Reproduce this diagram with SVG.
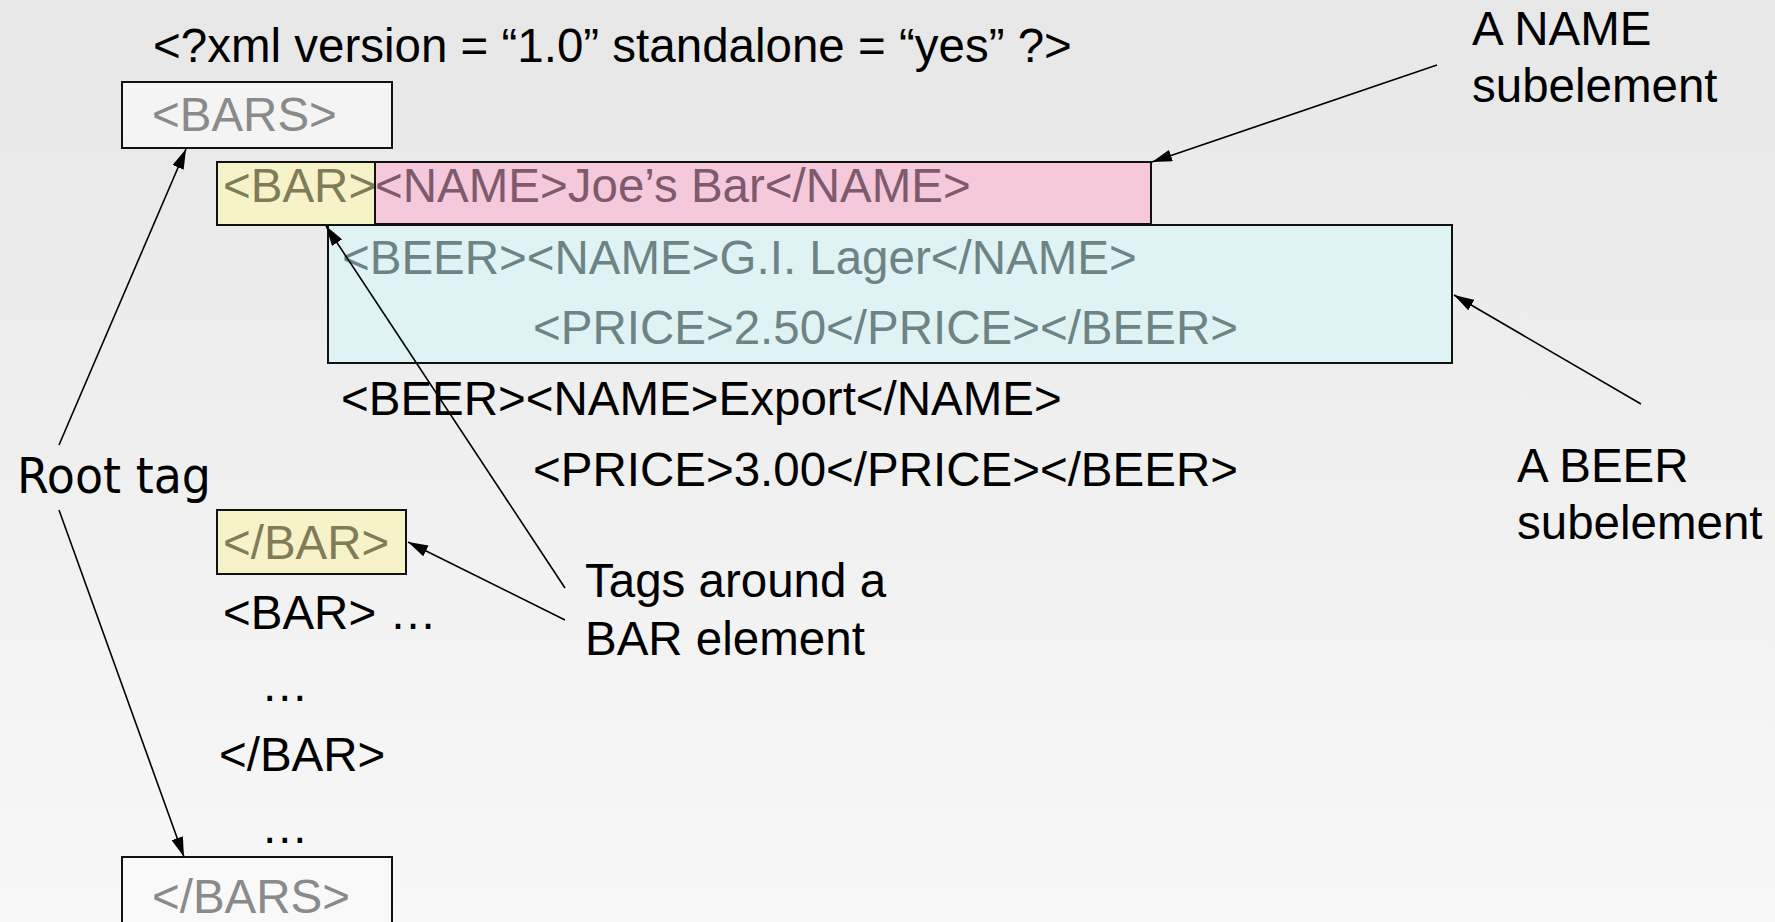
<svg xmlns="http://www.w3.org/2000/svg" width="1775" height="922" viewBox="0 0 1775 922">
<defs>
<linearGradient id="bg" x1="0" y1="0" x2="0" y2="1">
<stop offset="0" stop-color="#e7e7e7"/>
<stop offset="1" stop-color="#f8f8f8"/>
</linearGradient>
<marker id="ah" viewBox="0 0 20 12" refX="20" refY="6" markerWidth="20" markerHeight="12" markerUnits="userSpaceOnUse" orient="auto">
<path d="M0,0 L20,6 L0,12 Z" fill="#000"/>
</marker>
<style>
text{font-family:"Liberation Sans",Arial,Helvetica,sans-serif;font-size:47.5px;fill:#000}
.box{stroke:#111;stroke-width:2}
.conn line{stroke:#000;stroke-width:1.6;marker-end:url(#ah)}
.grey{fill:#8a8a8a}
.olive{fill:#807c58}
.mauve{fill:#7e5a6c}
.teal{fill:#6e8484}
.root{font-family:"DejaVu Sans",Verdana,sans-serif;font-size:50px}
</style>
</defs>
<rect width="1775" height="922" fill="url(#bg)"/>

<g id="xmldecl"><text x="153" y="62">&lt;?xml version = “1.0” standalone = “yes” ?&gt;</text></g>

<g id="bars-open">
<rect class="box" x="122" y="82" width="270" height="66" fill="#f4f4f4"/>
<text class="grey" x="152" y="131">&lt;BARS&gt;</text>
</g>

<g id="bar-open">
<rect class="box" x="217" y="162" width="158" height="63" fill="#f7f3c8"/>
<text class="olive" x="223" y="202">&lt;BAR&gt;</text>
</g>

<g id="name-sub">
<rect class="box" x="375" y="162" width="776" height="62" fill="#f5c8dc"/>
<text class="mauve" x="375" y="202">&lt;NAME&gt;Joe’s Bar&lt;/NAME&gt;</text>
</g>

<g id="beer-sub">
<rect class="box" x="328" y="225" width="1124" height="138" fill="#dff3f5"/>
<text class="teal" x="342" y="274">&lt;BEER&gt;&lt;NAME&gt;G.I. Lager&lt;/NAME&gt;</text>
<text class="teal" x="533" y="344">&lt;PRICE&gt;2.50&lt;/PRICE&gt;&lt;/BEER&gt;</text>
</g>

<g id="beer-export">
<text x="341" y="415">&lt;BEER&gt;&lt;NAME&gt;Export&lt;/NAME&gt;</text>
<text x="533" y="486">&lt;PRICE&gt;3.00&lt;/PRICE&gt;&lt;/BEER&gt;</text>
</g>

<g id="bar-close">
<rect class="box" x="217" y="510" width="189" height="64" fill="#f7f3c8"/>
<text class="olive" x="223" y="559">&lt;/BAR&gt;</text>
</g>

<g id="rest">
<text x="223" y="629">&lt;BAR&gt; …</text>
<text x="261" y="701">…</text>
<text x="219" y="771">&lt;/BAR&gt;</text>
<text x="261" y="843">…</text>
</g>

<g id="bars-close">
<rect class="box" x="122" y="857" width="270" height="80" fill="#f9f9f9"/>
<text class="grey" x="152" y="913">&lt;/BARS&gt;</text>
</g>

<g id="label-root"><text class="root" x="17" y="493" textLength="194" lengthAdjust="spacingAndGlyphs">Root tag</text></g>
<g id="label-tags">
<text x="585" y="597">Tags around a</text>
<text x="585" y="655">BAR element</text>
</g>
<g id="label-name">
<text x="1472" y="45">A NAME</text>
<text x="1472" y="102">subelement</text>
</g>
<g id="label-beer">
<text x="1517" y="482">A BEER</text>
<text x="1517" y="539">subelement</text>
</g>

<g class="conn" id="connectors">
<line x1="59" y1="445" x2="186" y2="149"/>
<line x1="59" y1="510" x2="184" y2="857"/>
<line x1="565" y1="588" x2="326" y2="226"/>
<line x1="565" y1="620" x2="408" y2="542"/>
<line x1="1437" y1="65" x2="1152" y2="162"/>
<line x1="1641" y1="404" x2="1454" y2="295"/>
</g>
</svg>
